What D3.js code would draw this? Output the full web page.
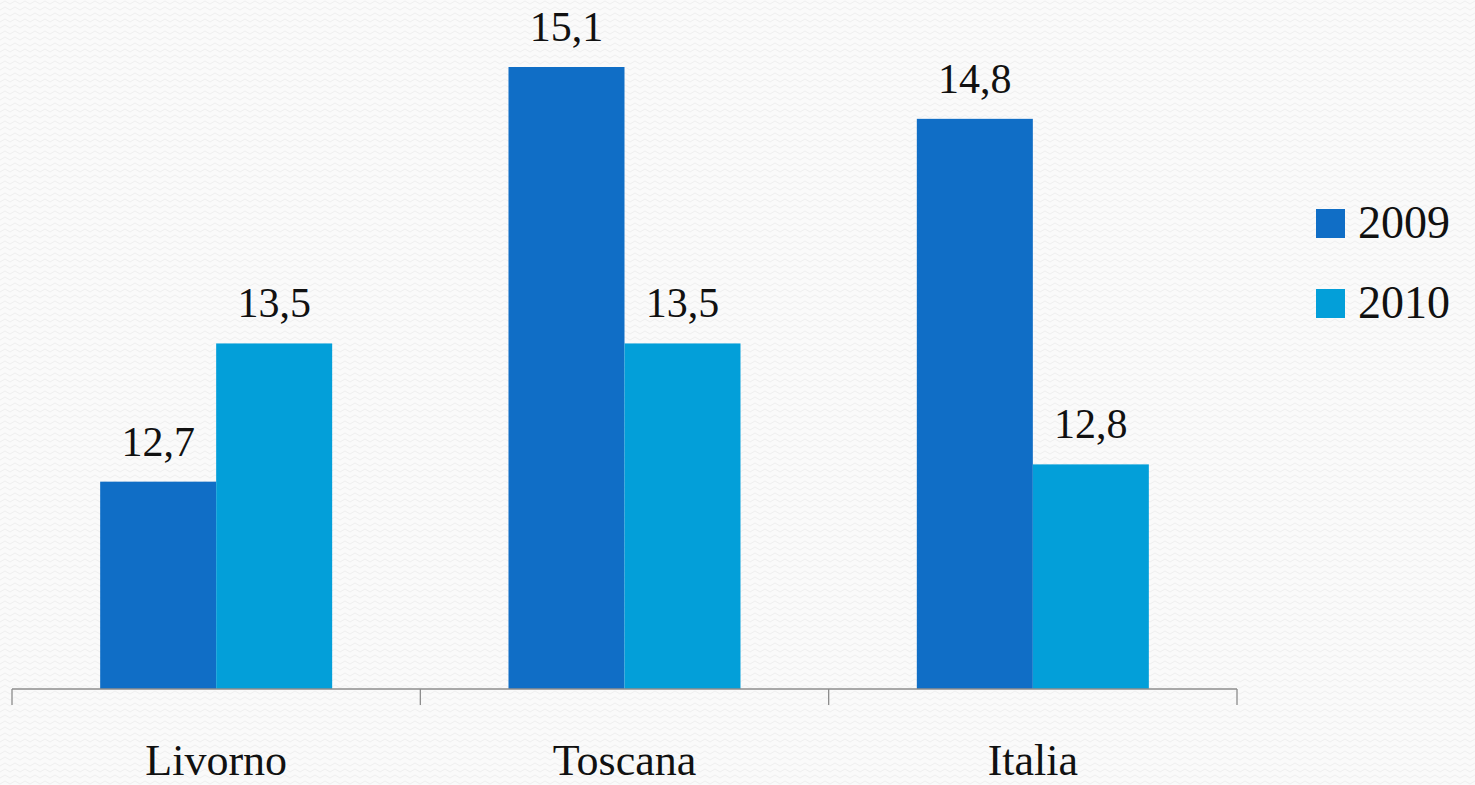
<!DOCTYPE html>
<html>
<head>
<meta charset="utf-8">
<script src="https://cdn.jsdelivr.net/npm/d3@7"></script>
<style>
  body { margin: 0; background: #fafafa; }
  text { font-family: "Liberation Serif", "DejaVu Serif", serif; fill: #111; }
</style>
</head>
<body>
<div id="chart"></div>
<script>
// data
const categories = ["Livorno", "Toscana", "Italia"];
const years = ["2009", "2010"];
const values2009 = [12.7, 15.1, 14.8];
const values2010 = [13.5, 13.5, 12.8];
const seriesColors = ["#106ec6", "#039fd9"];

const W = 1475, H = 785;
var margin = {top: 0, left: 12, right: 238, bottom: 96};
const baseY = 689;

var svg = d3.select("#chart")
            .append("svg")
                .attr("width", W)
                .attr("height", H);

//textured background
const defs = svg.append("defs");
const pat = defs.append("pattern")
                .attr("id", "zig")
                .attr("width", 10)
                .attr("height", 6)
                .attr("patternUnits", "userSpaceOnUse");
pat.append("rect").attr("width", 10).attr("height", 6).attr("fill", "#fafafa");
pat.append("path")
    .attr("d", "M0,4 L5,1 L10,4")
    .attr("fill", "none")
    .attr("stroke", "#efefef")
    .attr("stroke-width", 1);
svg.append("rect").attr("width", W).attr("height", H).attr("fill", "url(#zig)");

//scales
var x = d3.scaleBand()
            .domain(categories)
            .range([margin.left, W - margin.right]);
var xInner = d3.scaleBand()
            .domain(years)
            .range([0, x.bandwidth()])
            .paddingOuter(0.76)
            .paddingInner(0);
var y = d3.scaleLinear()
            .domain([11.5, 15.1])
            .range([baseY, 67]);

const rows = categories.map((c, i) => ({
    cat: c,
    vals: [{year: years[0], v: values2009[i]}, {year: years[1], v: values2010[i]}]
}));
const color = d3.scaleOrdinal().domain(years).range(seriesColors);

//bars
const groups = svg.selectAll("g.grp")
                .data(rows)
                .enter()
                .append("g")
                    .attr("class", "grp")
                    .attr("transform", d => "translate(" + x(d.cat) + ",0)");
groups.selectAll("rect")
        .data(d => d.vals)
        .enter()
        .append("rect")
            .attr("x", d => xInner(d.year))
            .attr("y", d => y(d.v))
            .attr("width", xInner.bandwidth())
            .attr("height", d => baseY - y(d.v))
            .attr("fill", d => color(d.year));
groups.selectAll("text.val")
        .data(d => d.vals)
        .enter()
        .append("text")
            .attr("class", "val")
            .attr("x", d => xInner(d.year) + xInner.bandwidth() / 2)
            .attr("y", d => y(d.v) - 26)
            .attr("text-anchor", "middle")
            .style("font-size", "42px")
            .text(d => d3.format(".1f")(d.v).replace(".", ","));

//x axis
var xAxis = svg.append("g")
                .attr("transform", "translate(0," + baseY + ")");
xAxis.append("line")
        .attr("x1", x.range()[0])
        .attr("x2", x.range()[1])
        .attr("stroke", "#8c8c8c")
        .attr("stroke-width", 1.3);
const tickPos = categories.map(c => x(c)).concat([x.range()[1]]);
xAxis.selectAll("line.tick")
        .data(tickPos)
        .enter()
        .append("line")
            .attr("class", "tick")
            .attr("x1", d => d).attr("x2", d => d)
            .attr("y1", 0).attr("y2", 16)
            .attr("stroke", "#8c8c8c")
            .attr("stroke-width", 1.3);
xAxis.selectAll("text")
        .data(categories)
        .enter()
        .append("text")
            .attr("x", d => x(d) + x.bandwidth() / 2)
            .attr("y", 86)
            .attr("text-anchor", "middle")
            .style("font-size", "44px")
            .text(d => d);

//legend
const legend = svg.append("g").attr("id", "legend");
legend.selectAll("rect")
        .data(years)
        .enter()
        .append("rect")
            .attr("x", 1316)
            .attr("y", (d, i) => 209 + i * 80)
            .attr("width", 29)
            .attr("height", 29)
            .attr("fill", d => color(d));
legend.selectAll("text")
        .data(years)
        .enter()
        .append("text")
            .attr("x", 1358)
            .attr("y", (d, i) => 238 + i * 80)
            .style("font-size", "46px")
            .text(d => d);
</script>
</body>
</html>
